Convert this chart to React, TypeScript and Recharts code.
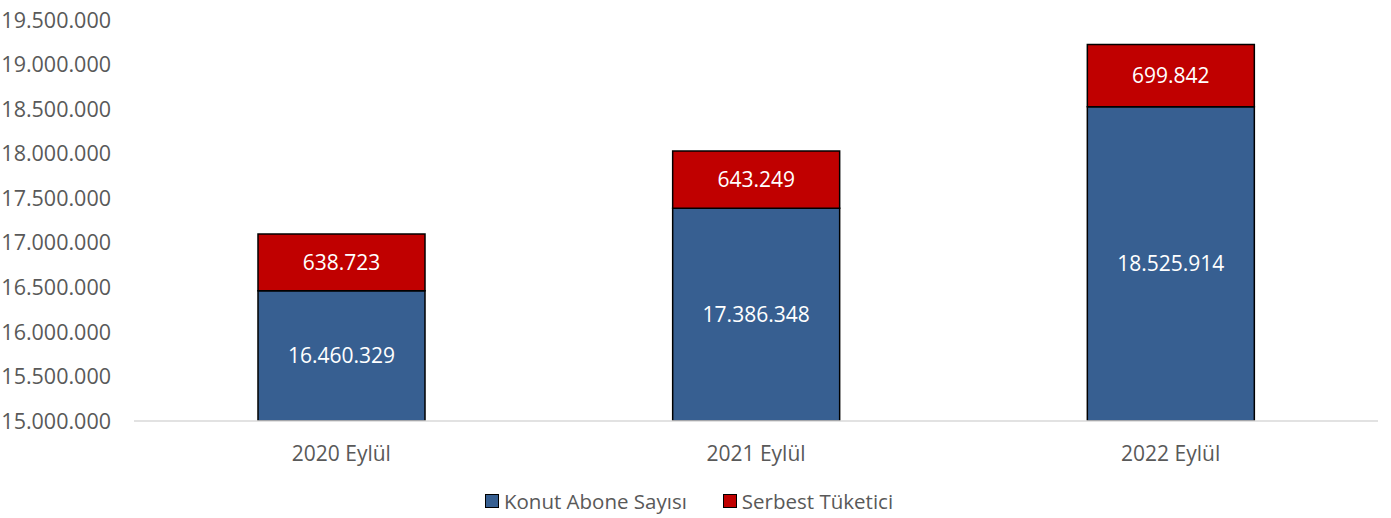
import React from "react";
import { BarChart, Bar, XAxis, YAxis, Legend, LabelList } from "recharts";

const categories = ["2020 Eylül", "2021 Eylül", "2022 Eylül"];
const konutAbone = [16460329, 17386348, 18525914];
const serbestTuketici = [638723, 643249, 699842];
const yTicks = [15000000, 15500000, 16000000, 16500000, 17000000, 17500000, 18000000, 18500000, 19000000, 19500000];

const BLUE = "#375F91";
const RED = "#C00000";
const TEXT = "#595959";
const FONT = "'Open Sans', sans-serif";

const fmt = (v: number) => String(Math.round(v)).replace(/\B(?=(\d{3})+(?!\d))/g, ".");

const data = categories.map((name, i) => ({
  name,
  konut: konutAbone[i],
  serbest: serbestTuketici[i],
}));

const LegendContent = () => (
  <div style={{ display: "flex", justifyContent: "center", gap: 36, marginTop: 7, lineHeight: "26px", fontFamily: FONT, fontSize: 20.5, color: TEXT }}>
    {[
      { label: "Konut Abone Sayısı", color: BLUE },
      { label: "Serbest Tüketici", color: RED },
    ].map((it) => (
      <div key={it.label} style={{ display: "flex", alignItems: "center", gap: 5 }}>
        <span style={{ width: 12, height: 12, background: it.color, border: "1.5px solid #000", display: "inline-block" }} />
        <span>{it.label}</span>
      </div>
    ))}
  </div>
);

export default function App() {
  return (
    <div style={{ position: "absolute", left: 0, top: 0, background: "#fff" }}>
      <BarChart width={1391} height={518} data={data} margin={{ top: 20, right: 13, bottom: 0, left: 0 }} barSize={167}>
        <XAxis
          dataKey="name"
          axisLine={{ stroke: "#D9D9D9", strokeWidth: 1.5 }}
          tickLine={false}
          tick={{ fill: TEXT, fontSize: 21, fontFamily: FONT }}
          tickMargin={19}
          height={60}
        />
        <YAxis
          domain={[15000000, 19500000]}
          ticks={yTicks}
          allowDataOverflow
          axisLine={false}
          tickLine={false}
          tickSize={0}
          tickMargin={23}
          width={134}
          tickFormatter={fmt}
          tick={{ fill: TEXT, fontSize: 21.5, fontFamily: FONT }}
        />
        <Legend verticalAlign="bottom" height={37} content={<LegendContent />} />
        <Bar dataKey="konut" stackId="a" fill={BLUE} stroke="#000" strokeWidth={1.5} isAnimationActive={false}>
          <LabelList dataKey="konut" position="center" formatter={(v: any) => fmt(Number(v))} fill="#fff" fontSize={21} fontFamily={FONT} />
        </Bar>
        <Bar dataKey="serbest" stackId="a" fill={RED} stroke="#000" strokeWidth={1.5} isAnimationActive={false}>
          <LabelList dataKey="serbest" position="center" formatter={(v: any) => fmt(Number(v))} fill="#fff" fontSize={21} fontFamily={FONT} />
        </Bar>
      </BarChart>
    </div>
  );
}
